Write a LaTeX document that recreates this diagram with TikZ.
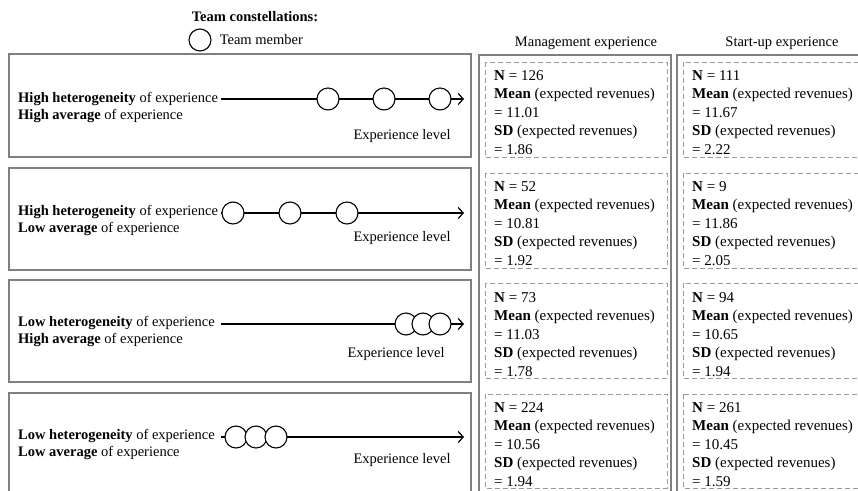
\documentclass[tikz,border=0pt]{standalone}
\usepackage{fontspec}
\setmainfont{Liberation Serif}
\usetikzlibrary{positioning}
\usetikzlibrary{arrows.meta}

\newcommand{\statlines}[3]{\textbf{N} = #1\\ \textbf{Mean} (expected revenues)\\ = #2\\ \textbf{SD} (expected revenues)\\ = #3}

\begin{document}
\begin{tikzpicture}[x=1pt,y=-1pt,>={Straight Barb[length=5pt,width=11pt,line width=1.2pt]},
    member/.style={circle,draw,fill=white,minimum size=22pt,inner sep=0pt,line width=1.1pt},
    axis/.style={->,line width=1.3pt},
    rowbox/.style={draw=gray,line width=1.8pt},
    colbox/.style={draw=gray,line width=2.2pt},
    statbox/.style={draw=gray!80,dash pattern=on 5pt off 3pt,line width=0.9pt},
    rowtext/.style={anchor=west,align=left,inner sep=0pt,font=\fontsize{14.5}{17}\selectfont},
    stats/.style={anchor=north west,align=left,inner sep=0pt,font=\fontsize{15}{18.6}\selectfont},
    leveltext/.style={inner sep=0pt,font=\fontsize{14.5}{17}\selectfont}]

  \useasboundingbox (0,0) rectangle (858,490);
  \clip (0,0) rectangle (858,490);

  % legend
  \node[inner sep=0pt,font=\bfseries\fontsize{14.5}{17}\selectfont] (title) at (255,17) {Team constellations:};
  \node[member] (key) at (200,40) {};
  \node[right=8pt of key,inner sep=0pt,font=\fontsize{14.5}{17}\selectfont] (keytext) {Team member};

  % column headers
  \node[inner sep=0pt,font=\fontsize{14.5}{17}\selectfont] (mgmt) at (586,43) {Management experience};
  \node[inner sep=0pt,font=\fontsize{14.5}{17}\selectfont] (startup) at (782,43) {Start-up experience};

  % frames
  \draw[rowbox] (9,54) rectangle (471,157);
  \draw[rowbox] (9,168) rectangle (471,270);
  \draw[rowbox] (9,280) rectangle (471,382);
  \draw[rowbox] (9,393) rectangle (471,500);
  \draw[colbox] (479,55) rectangle (671,500);
  \draw[colbox] (677,55) rectangle (875,500);
  \foreach \top/\bot in {62/157,173/268,283/378,394/488} {
    \draw[statbox] (485,\top) rectangle (667,\bot);
    \draw[statbox] (683,\top) rectangle (880,\bot);
  }

  % row 1
  \node[rowtext] (t1) at (18,107.5) {\textbf{High heterogeneity} of experience\\ \textbf{High average} of experience};
  \coordinate (s1) at (221,99);
  \coordinate (e1) at (464,99);
  \draw[axis] (s1) -- (e1);
  \node[member] (m11) at (328,99) {};
  \node[member] (m12) at (384,99) {};
  \node[member] (m13) at (440,99) {};
  \node[leveltext] (l1) at (402,136) {Experience level};

  % row 2
  \node[rowtext] (t2) at (18,220.5) {\textbf{High heterogeneity} of experience\\ \textbf{Low average} of experience};
  \coordinate (s2) at (221,213);
  \coordinate (e2) at (464,213);
  \draw[axis] (s2) -- (e2);
  \node[member] (m21) at (233,213) {};
  \node[member] (m22) at (290,213) {};
  \node[member] (m23) at (347,213) {};
  \node[leveltext] (l2) at (402,238) {Experience level};

  % row 3
  \node[rowtext] (t3) at (18,331.5) {\textbf{Low heterogeneity} of experience\\ \textbf{High average} of experience};
  \coordinate (s3) at (221,324);
  \coordinate (e3) at (464,324);
  \draw[axis] (s3) -- (e3);
  \node[member] (m31) at (406,324) {};
  \node[member] (m32) at (423,324) {};
  \node[member] (m33) at (440,324) {};
  \node[leveltext] (l3) at (396,354) {Experience level};

  % row 4
  \node[rowtext] (t4) at (18,444.5) {\textbf{Low heterogeneity} of experience\\ \textbf{Low average} of experience};
  \coordinate (s4) at (221,437);
  \coordinate (e4) at (464,437);
  \draw[axis] (s4) -- (e4);
  \node[member] (m41) at (236,437) {};
  \node[member] (m42) at (256,437) {};
  \node[member] (m43) at (276,437) {};
  \node[leveltext] (l4) at (402,460) {Experience level};

  % statistics
  \node[stats] (a1) at (494,70) {\statlines{126}{11.01}{1.86}};
  \node[stats] (a2) at (494,181) {\statlines{52}{10.81}{1.92}};
  \node[stats] (a3) at (494,292) {\statlines{73}{11.03}{1.78}};
  \node[stats] (a4) at (494,402) {\statlines{224}{10.56}{1.94}};
  \node[stats] (b1) at (692,70) {\statlines{111}{11.67}{2.22}};
  \node[stats] (b2) at (692,181) {\statlines{9}{11.86}{2.05}};
  \node[stats] (b3) at (692,292) {\statlines{94}{10.65}{1.94}};
  \node[stats] (b4) at (692,402) {\statlines{261}{10.45}{1.59}};
\end{tikzpicture}
\end{document}
